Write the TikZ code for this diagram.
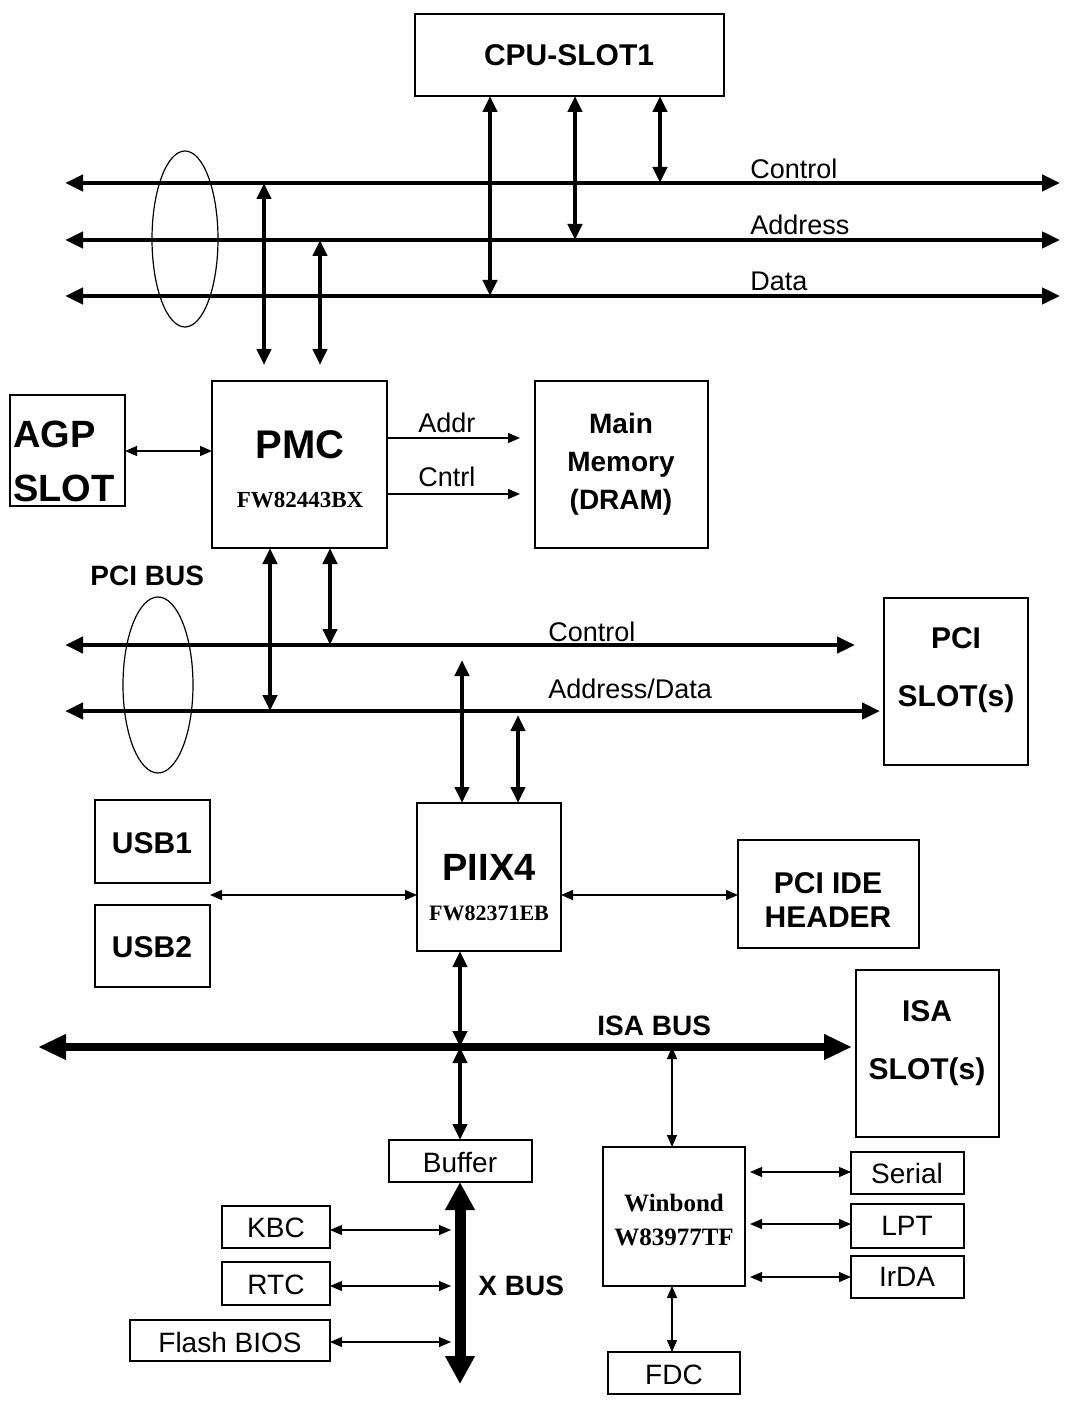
\documentclass[tikz,border=0pt]{standalone}
\usepackage{fontspec}
\setmainfont{Liberation Sans}
\newfontfamily\serifb{Liberation Serif}
\usetikzlibrary{arrows.meta}
\begin{document}
\begin{tikzpicture}[x=0.5pt,y=-0.5pt,
 box/.style={draw,line width=0.6pt},
 bus/.style={line width=2.4pt,{Triangle[length=9pt,width=8pt]}-{Triangle[length=9pt,width=8pt]}},
 thk/.style={line width=2.2pt,{Triangle[length=8pt,width=7pt]}-{Triangle[length=8pt,width=7pt]}},
 thn/.style={line width=0.6pt,{Triangle[length=6pt,width=5pt]}-{Triangle[length=6pt,width=5pt]}},
 lab/.style={anchor=south west,inner sep=0pt,font=\fontsize{13.5}{15}\selectfont},
 bt/.style={font=\fontsize{15}{17}\selectfont\bfseries,align=center},
 nt/.style={font=\fontsize{14}{16}\selectfont}]
\useasboundingbox (0,0) rectangle (1070,1406);
% CPU
\draw[box] (415,14) rectangle (724,96); \node[bt] (cpu) at (569,55) {CPU-SLOT1};
\coordinate (cl) at (65,183); \coordinate (cr) at (1060,183);
\coordinate (al) at (65,240); \coordinate (ar) at (1060,240);
\coordinate (dl) at (65,296); \coordinate (dr) at (1060,296);
\draw[bus] (cl)--(cr); \draw[bus] (al)--(ar); \draw[bus] (dl)--(dr);
\draw[line width=0.6pt] (185,239) ellipse [x radius=33,y radius=88];
\coordinate (c1) at (490,96); \coordinate (c1e) at (490,296);
\coordinate (c2) at (575,96); \coordinate (c2e) at (575,240);
\coordinate (c3) at (660,96); \coordinate (c3e) at (660,183);
\draw[thk] (c1)--(c1e); \draw[thk] (c2)--(c2e); \draw[thk] (c3)--(c3e);
\node[lab] at (750,179) {Control};
\node[lab] at (750,235) {Address};
\node[lab] at (750,291) {Data};
% PMC
\coordinate (p1) at (264,183); \coordinate (p1e) at (264,365);
\coordinate (p2) at (320,240); \coordinate (p2e) at (320,365);
\draw[thk] (p1)--(p1e); \draw[thk] (p2)--(p2e);
\draw[box] (10,395) rectangle (125,506);
\node[font=\fontsize{19}{27}\selectfont\bfseries,align=left,anchor=west,inner sep=0pt] (agp) at (13,461) {AGP\\SLOT};
\draw[box] (212,381) rectangle (387,548);
\node[font=\fontsize{20}{22}\selectfont\bfseries] (pmc) at (300,445) {PMC};
\node[font=\serifb\fontsize{11.5}{13}\selectfont\bfseries] at (300,500) {FW82443BX};
\coordinate (ag1) at (125,451); \coordinate (ag2) at (212,451);
\draw[thn] (ag1)--(ag2);
\coordinate (m1) at (387,438); \coordinate (m1e) at (520,438);
\coordinate (m2) at (387,494); \coordinate (m2e) at (520,494);
\draw[line width=0.6pt,-{Triangle[length=6pt,width=5pt]}] (m1)--(m1e);
\draw[line width=0.6pt,-{Triangle[length=6pt,width=5pt]}] (m2)--(m2e);
\node[lab] at (418,433) {Addr};
\node[lab] at (418,487) {Cntrl};
\draw[box] (535,381) rectangle (708,548);
\node[bt,font=\fontsize{14}{19}\selectfont\bfseries] (mem) at (621,464) {Main\\Memory\\(DRAM)};
% PCI
\node[lab,font=\fontsize{14}{16}\selectfont\bfseries] at (90,586) {PCI BUS};
\coordinate (pcl) at (65,645); \coordinate (pcr) at (855,645);
\coordinate (pal) at (65,711); \coordinate (par) at (880,711);
\draw[bus] (pcl)--(pcr); \draw[bus] (pal)--(par);
\draw[line width=0.6pt] (158,685) ellipse [x radius=35,y radius=88];
\coordinate (q1) at (270,548); \coordinate (q1e) at (270,711);
\coordinate (q2) at (330,548); \coordinate (q2e) at (330,645);
\draw[thk] (q1)--(q1e); \draw[thk] (q2)--(q2e);
\node[lab] at (548,642) {Control};
\node[lab] at (548,699) {Address/Data};
\draw[box] (884,598) rectangle (1028,765);
\node[bt,font=\fontsize{15}{29}\selectfont\bfseries] (pcis) at (956,670) {PCI\\SLOT(s)};
% PIIX4
\coordinate (x1) at (462,660); \coordinate (x1e) at (462,803);
\coordinate (x2) at (518,715); \coordinate (x2e) at (518,803);
\draw[thk] (x1)--(x1e); \draw[thk] (x2)--(x2e);
\draw[box] (417,803) rectangle (561,951);
\node[font=\fontsize{19}{21}\selectfont\bfseries] (piix) at (489,867) {PIIX4};
\node[font=\serifb\fontsize{11}{13}\selectfont\bfseries,inner sep=0pt] at (489,913) {FW82371EB};
\draw[box] (95,800) rectangle (210,883); \node[bt] (usb1) at (152,843) {USB1};
\draw[box] (95,905) rectangle (210,987); \node[bt] (usb2) at (152,947) {USB2};
\coordinate (u1) at (210,895); \coordinate (u2) at (417,895);
\draw[thn] (u1)--(u2);
\draw[box] (738,840) rectangle (919,948);
\node[bt] (ide) at (828,900) {PCI IDE\\HEADER};
\coordinate (i1) at (561,895); \coordinate (i2) at (738,895);
\draw[thn] (i1)--(i2);
% ISA
\coordinate (il) at (38,1047); \coordinate (ir) at (852,1047);
\draw[line width=4pt,{Triangle[length=14pt,width=12pt]}-{Triangle[length=14pt,width=12pt]}] (il)--(ir);
\coordinate (y1) at (460,951); \coordinate (y1e) at (460,1047);
\draw[thk] (y1)--(y1e);
\node[lab,font=\fontsize{14}{16}\selectfont\bfseries] at (597,1036) {ISA BUS};
\draw[box] (856,970) rectangle (999,1137);
\node[bt,font=\fontsize{15}{29}\selectfont\bfseries] (isas) at (927,1043) {ISA\\SLOT(s)};
\coordinate (y2) at (460,1047); \coordinate (y2e) at (460,1140);
\draw[thk] (y2)--(y2e);
\draw[box] (389,1140) rectangle (532,1182); \node[nt] (buf) at (460,1162) {Buffer};
\coordinate (xb1) at (460,1182); \coordinate (xb2) at (460,1384);
\draw[line width=5.5pt,{Triangle[length=14pt,width=14pt]}-{Triangle[length=14pt,width=14pt]}] (xb1)--(xb2);
\node[lab,font=\fontsize{14}{16}\selectfont\bfseries] at (478,1296) {X BUS};
\draw[box] (222,1206) rectangle (330,1248); \node[nt] (kbc) at (276,1228) {KBC};
\draw[box] (222,1262) rectangle (330,1305); \node[nt] (rtc) at (276,1285) {RTC};
\draw[box] (130,1320) rectangle (330,1361); \node[nt] (bios) at (230,1342) {Flash BIOS};
\coordinate (k1) at (330,1230); \coordinate (k2) at (451,1230);
\coordinate (r1) at (330,1286); \coordinate (r2) at (451,1286);
\coordinate (f1) at (330,1342); \coordinate (f2) at (451,1342);
\draw[thn] (k1)--(k2); \draw[thn] (r1)--(r2); \draw[thn] (f1)--(f2);
% Winbond
\draw[box] (603,1147) rectangle (745,1286);
\node[font=\serifb\fontsize{12.5}{17}\selectfont\bfseries,align=center] (wb) at (674,1220) {Winbond\\W83977TF};
\coordinate (w1) at (672,1047); \coordinate (w1e) at (672,1147);
\draw[thn] (w1)--(w1e);
\draw[box] (851,1152) rectangle (964,1194); \node[nt] (ser) at (907,1173) {Serial};
\draw[box] (851,1204) rectangle (964,1248); \node[nt] (lpt) at (907,1226) {LPT};
\draw[box] (851,1256) rectangle (964,1298); \node[nt] (irda) at (907,1277) {IrDA};
\coordinate (s1) at (750,1172); \coordinate (s2) at (851,1172);
\coordinate (l1) at (750,1224); \coordinate (l2) at (851,1224);
\coordinate (r3) at (750,1277); \coordinate (r4) at (851,1277);
\draw[thn] (s1)--(s2); \draw[thn] (l1)--(l2); \draw[thn] (r3)--(r4);
\draw[box] (608,1352) rectangle (740,1394); \node[nt] (fdc) at (674,1375) {FDC};
\coordinate (fd1) at (672,1286); \coordinate (fd2) at (672,1352);
\draw[thn] (fd1)--(fd2);
\end{tikzpicture}
\end{document}
